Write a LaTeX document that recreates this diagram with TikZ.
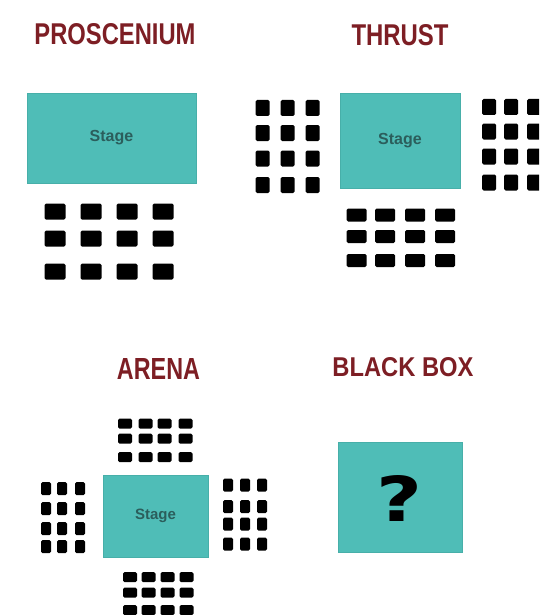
\documentclass[tikz,border=0pt]{standalone}
\usepackage{fontspec}
\usepackage{graphicx}
\setmainfont{Liberation Sans}
\newfontfamily\qfont{DejaVu Sans}
\definecolor{stageteal}{HTML}{4FBDB7}
\definecolor{stageedge}{HTML}{47AFA9}
\definecolor{stagetext}{HTML}{2B5E5C}
\definecolor{titlered}{HTML}{7D1E24}
\tikzset{
  seat/.style={fill=black, draw=none, rounded corners=1.5pt, inner sep=0pt},
  stagebox/.style={fill=stageteal, draw=stageedge, line width=0.6pt, inner sep=0pt,
    text=stagetext, font=\fontsize{16}{16}\selectfont\bfseries},
  title/.style={text=titlered, inner sep=0pt, font=\bfseries},
}
\begin{document}
\begin{tikzpicture}[x=1pt, y=-1pt]
\clip (0,0) rectangle (539,615);
\fill[white] (0,0) rectangle (539,615);

% ---------- PROSCENIUM ----------
\node[title] (tpro) at (115,34.5) {\resizebox{161pt}{21pt}{PROSCENIUM}};
\node[stagebox, minimum width=169pt, minimum height=90pt] (pstage) at (111.5,138) {Stage};
\foreach \x [count=\i] in {55,91,127,163}
  \foreach \y [count=\j] in {211.5,238.5,271.5}
    \node[seat, minimum width=21pt, minimum height=16pt] (p-\j-\i) at (\x,\y) {};

% ---------- THRUST ----------
\node[title] (tthr) at (400,35.5) {\resizebox{97pt}{21pt}{THRUST}};
\node[stagebox, minimum width=120pt, minimum height=95pt] (tstage) at (400,140.5) {Stage};
\foreach \x [count=\i] in {262.5,287.5,312.5}
  \foreach \y [count=\j] in {108,133,158.5,185}
    \node[seat, minimum width=14pt, minimum height=16pt] (tl-\j-\i) at (\x,\y) {};
\foreach \x [count=\i] in {489,511,534}
  \foreach \y [count=\j] in {107,131.5,156.5,182.5}
    \node[seat, minimum width=14pt, minimum height=16pt] (tr-\j-\i) at (\x,\y) {};
\foreach \x [count=\i] in {356.5,385,415,445}
  \foreach \y [count=\j] in {215,236.5,260.5}
    \node[seat, minimum width=20pt, minimum height=13pt] (tb-\j-\i) at (\x,\y) {};

% ---------- ARENA ----------
\node[title] (tare) at (158.5,368.5) {\resizebox{83pt}{21pt}{ARENA}};
\node[stagebox, minimum width=105pt, minimum height=82pt, font=\fontsize{15}{15}\selectfont\bfseries] (astage) at (155.5,516) {Stage};
\foreach \x [count=\i] in {125,145.5,164.5,185.5}
  \foreach \y [count=\j] in {423.5,438.5,457}
    \node[seat, minimum width=14pt, minimum height=10pt] (at-\j-\i) at (\x,\y) {};
\foreach \x [count=\i] in {46,62,80}
  \foreach \y [count=\j] in {488.5,508.5,528.5,546.5}
    \node[seat, minimum width=10pt, minimum height=13pt] (al-\j-\i) at (\x,\y) {};
\foreach \x [count=\i] in {228,245,262}
  \foreach \y [count=\j] in {485,506.5,524,544}
    \node[seat, minimum width=10pt, minimum height=13pt] (ar-\j-\i) at (\x,\y) {};
\foreach \x [count=\i] in {130,148.5,167.5,186.5}
  \foreach \y [count=\j] in {577,592.5,610}
    \node[seat, minimum width=14pt, minimum height=10pt] (ab-\j-\i) at (\x,\y) {};

% ---------- BLACK BOX ----------
\node[title] (tbla) at (403,367) {\resizebox{141pt}{19pt}{BLACK BOX}};
\node[stagebox, minimum width=124pt, minimum height=110pt] (bstage) at (400,497) {};
\node[inner sep=0pt, text=black] (qmark) at (399,498.5) {\resizebox{46pt}{46pt}{\qfont\bfseries ?}};
\end{tikzpicture}
\end{document}
